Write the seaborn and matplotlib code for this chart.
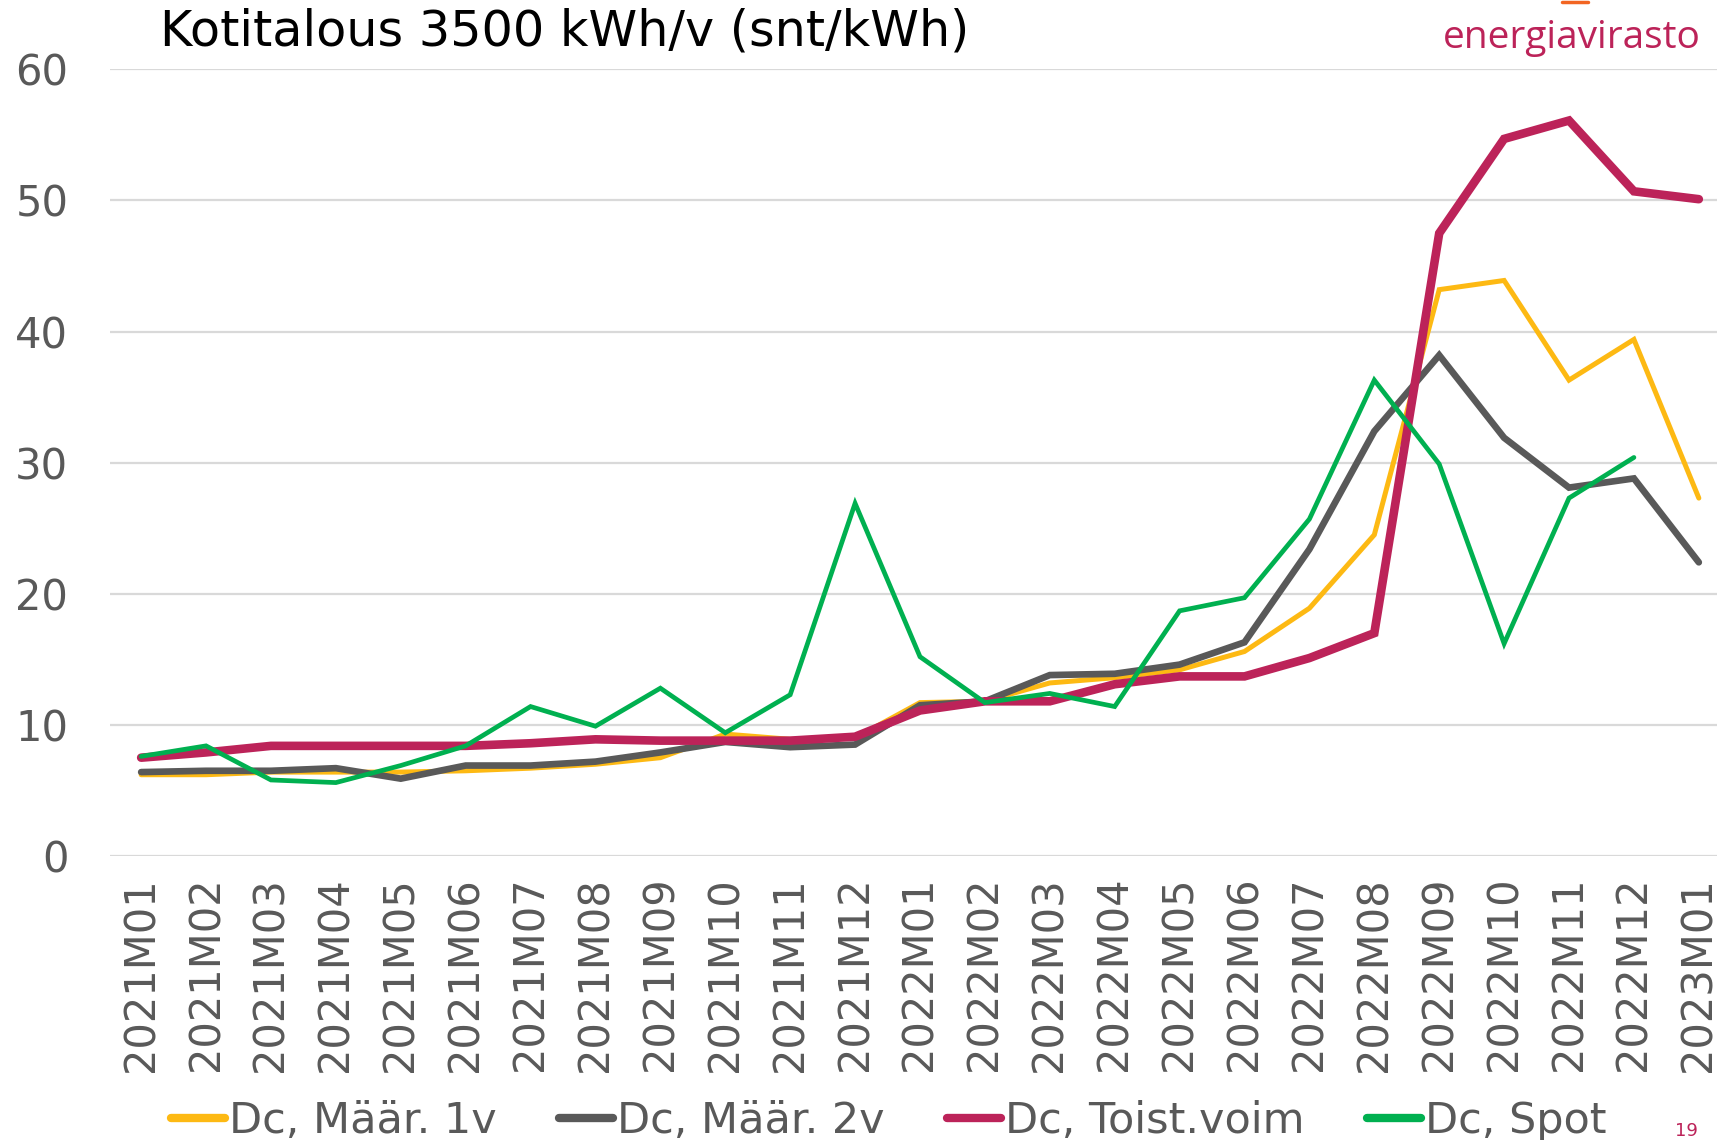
import numpy as np
import pandas as pd
import matplotlib
matplotlib.use("Agg")
import matplotlib.pyplot as plt
from matplotlib.lines import Line2D
import seaborn as sns

months = ["2021M01", "2021M02", "2021M03", "2021M04", "2021M05", "2021M06",
          "2021M07", "2021M08", "2021M09", "2021M10", "2021M11", "2021M12",
          "2022M01", "2022M02", "2022M03", "2022M04", "2022M05", "2022M06",
          "2022M07", "2022M08", "2022M09", "2022M10", "2022M11", "2022M12",
          "2023M01"]

maar_1v = [6.2, 6.2, 6.4, 6.4, 6.4, 6.5, 6.7, 7.0, 7.5, 9.3, 8.9, 9.0,
           11.7, 11.8, 13.2, 13.6, 14.2, 15.6, 18.9, 24.5, 43.2, 43.9, 36.3, 39.4, 27.3]
maar_2v = [6.4, 6.5, 6.5, 6.7, 5.9, 6.9, 6.9, 7.2, 7.9, 8.7, 8.3, 8.5,
           11.5, 11.8, 13.8, 13.9, 14.6, 16.3, 23.4, 32.4, 38.2, 31.9, 28.1, 28.8, 22.4]
toist_voim = [7.5, 7.9, 8.4, 8.4, 8.4, 8.4, 8.6, 8.9, 8.8, 8.8, 8.8, 9.1,
              11.1, 11.8, 11.8, 13.1, 13.7, 13.7, 15.1, 17.0, 47.5, 54.7, 56.1, 50.7, 50.1]
spot = [7.6, 8.4, 5.8, 5.6, 6.9, 8.4, 11.4, 9.9, 12.8, 9.4, 12.3, 26.9,
        15.2, 11.7, 12.4, 11.4, 18.7, 19.7, 25.7, 36.3, 29.9, 16.2, 27.3, 30.4, np.nan]

series = [
    ("Dc, Määr. 1v", maar_1v, "#FDB913", 3.6),
    ("Dc, Määr. 2v", maar_2v, "#595959", 4.8),
    ("Dc, Toist.voim", toist_voim, "#BC2359", 6.2),
    ("Dc, Spot", spot, "#00B050", 3.4),
]

sns.set_theme(style="white")
plt.rcParams["font.family"] = ["DejaVu Sans"]

W, H = 1726, 1140
fig = plt.figure(figsize=(W / 100, H / 100), dpi=100)
ax = fig.add_axes([110 / W, 1 - 856 / H, 1607 / W, (856 - 69.4) / H])

x = np.arange(len(months))
for name, vals, color, lw in series:
    df = pd.DataFrame({"x": x, "y": vals})
    sns.lineplot(data=df, x="x", y="y", ax=ax, color=color, linewidth=lw,
                 label=name, solid_capstyle="round", solid_joinstyle="miter")

ax.set_xlim(-0.48, 24.28)
ax.set_ylim(0, 60)
ax.set_yticks([0, 10, 20, 30, 40, 50, 60])
ax.set_xticks(x)
ax.set_xticklabels(months, rotation=90)
ax.tick_params(axis="x", labelsize=30, labelcolor="#595959", length=0, pad=15)
ax.tick_params(axis="y", labelsize=30, labelcolor="#595959", length=0, pad=30)
ax.set_xlabel("")
ax.set_ylabel("")
ax.grid(axis="y", color="#D9D9D9", linewidth=1.6)
ax.set_axisbelow(True)
for s in ax.spines.values():
    s.set_visible(False)

ax.get_legend().remove()
handles, labels = ax.get_legend_handles_labels()
leg = fig.legend(handles, labels, loc="center", bbox_to_anchor=(0.515, 1 - 1121 / H),
                 ncol=4, frameon=False, fontsize=31, handlelength=1.25,
                 handletextpad=0.1, columnspacing=1.45)
for t in leg.get_texts():
    t.set_color("#595959")
for h in leg.legend_handles:
    h.set_linewidth(6)
    h.set_solid_capstyle("round")

fig.text(160 / W, 1 - 45 / H, "Kotitalous 3500 kWh/v (snt/kWh)", fontsize=35.5,
         color="black", va="baseline", ha="left")
fig.text(1701 / W, 1 - 48 / H, "energiavirasto", fontsize=28, color="#BC2359",
         va="baseline", ha="right", family=["Open Sans", "DejaVu Sans"])
fig.text(1698 / W, 1 - 1136 / H, "19", fontsize=13, color="#BC2359",
         va="baseline", ha="right")
# edge of the cropped orange logo mark
fig.add_artist(Line2D([1562 / W, 1588 / W], [1 - 1.5 / H, 1 - 1.5 / H], color="#F26522",
                      linewidth=2.5))

fig.savefig("out.png", dpi=100)
